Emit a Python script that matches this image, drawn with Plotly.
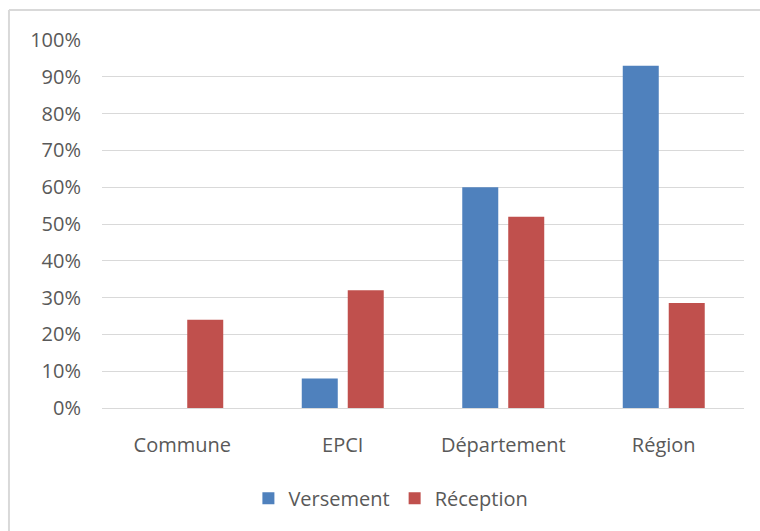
import plotly.graph_objects as go

categories = ["Commune", "EPCI", "Département", "Région"]
versement = [0, 8, 60, 93]
reception = [24, 32, 52, 28.5]
tick_vals = [0, 10, 20, 30, 40, 50, 60, 70, 80, 90, 100]
tick_text = [f"{v}%" for v in tick_vals]

BLUE = "#4F81BD"
RED = "#C0504D"
TXT = "#595959"
FONT = "Open Sans"
FS = 20
BORDER = dict(color="#D9D9D9", width=2)

fig = go.Figure()
fig.add_trace(go.Bar(name="Versement", x=categories, y=versement,
                     marker=dict(color=BLUE, line=dict(width=0))))
fig.add_trace(go.Bar(name="Réception", x=categories, y=reception,
                     marker=dict(color=RED, line=dict(width=0))))

fig.update_layout(
    width=760, height=531,
    margin=dict(l=102, r=16, t=40, b=123),
    paper_bgcolor="white", plot_bgcolor="white",
    barmode="group", bargap=0.427, bargroupgap=0.217,
    font=dict(family=FONT, size=FS, color=TXT),
    showlegend=True,
    legend=dict(orientation="h", x=0.45, xanchor="center", y=-0.245, yanchor="middle",
                font=dict(family=FONT, size=FS, color=TXT), itemwidth=30),
    xaxis=dict(showgrid=False, showline=False, zeroline=False,
               ticks="outside", ticklen=19, tickcolor="rgba(0,0,0,0)",
               tickfont=dict(family=FONT, size=FS, color=TXT)),
    yaxis=dict(range=[0, 100], tickvals=tick_vals, ticktext=tick_text,
               showgrid=True, gridcolor="#D9D9D9", gridwidth=1,
               zeroline=True, zerolinecolor="#D9D9D9", zerolinewidth=1,
               showline=False, ticks="outside", ticklen=16, tickcolor="rgba(0,0,0,0)",
               tickfont=dict(family=FONT, size=FS, color=TXT)),
    shapes=[
        dict(type="line", xref="paper", yref="paper",
             x0=-0.1449, x1=-0.1449, y0=-0.4, y1=1.0815, line=BORDER, layer="below"),
        dict(type="line", xref="paper", yref="paper",
             x0=-0.1449, x1=1.03, y0=1.0815, y1=1.0815, line=BORDER, layer="below"),
    ],
)

fig.write_html("out.html",
               config={"displayModeBar": False},
               post_script="document.body.style.margin='0';document.body.style.overflow='hidden';")
